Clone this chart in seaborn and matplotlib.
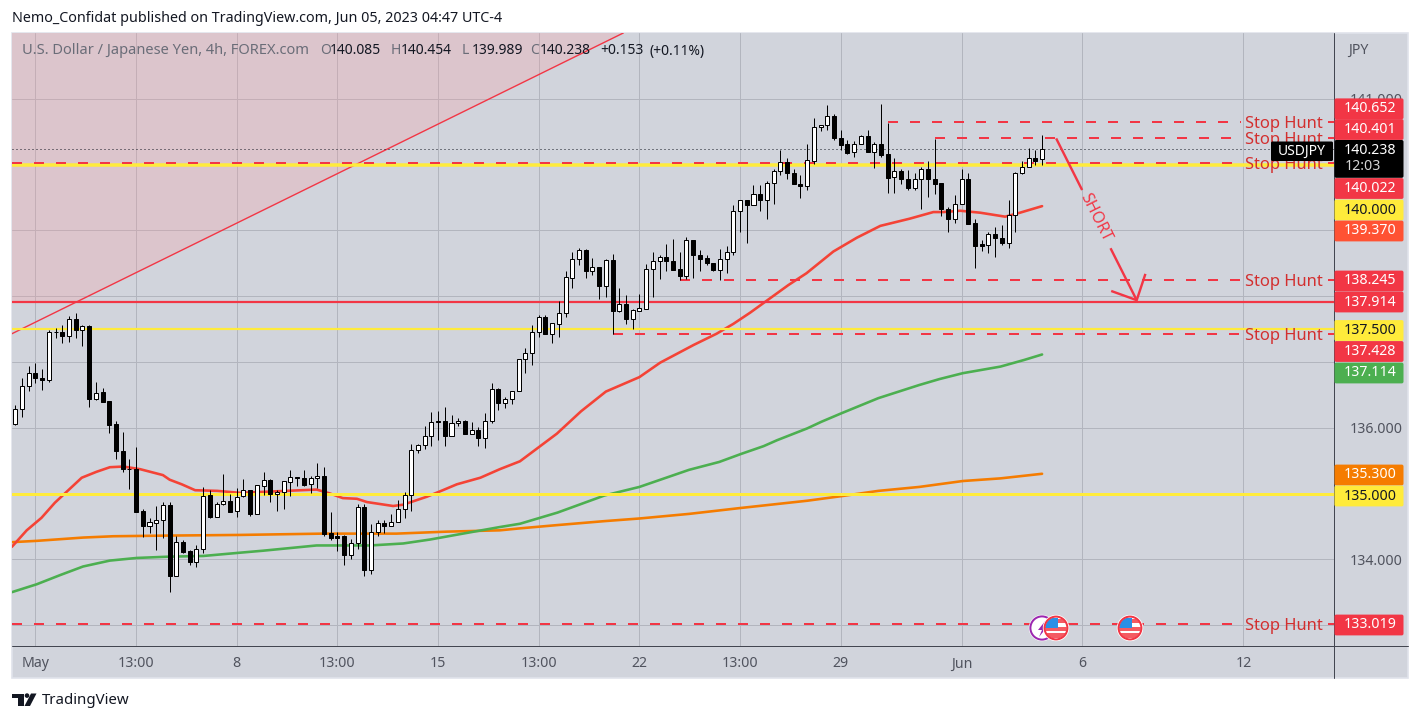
import matplotlib
matplotlib.use("Agg")
import matplotlib.pyplot as plt
from matplotlib.patches import FancyBboxPatch, Circle, Rectangle, Polygon
import seaborn as sns

# ---------- candles (4h USD/JPY) ----------
opens = [136.06,136.29,136.64,136.84,136.76,136.73,137.46,137.46,137.40,137.66,137.49,137.55,136.44,136.54,136.40,136.05,135.65,135.38,135.38,134.73,134.51,134.55,134.59,134.82,133.74,134.27,134.12,133.96,134.15,134.97,134.64,134.84,134.88,134.73,
134.96,135.05,134.69,135.12,135.20,135.00,135.03,135.18,135.25,135.23,135.14,135.23,135.26,134.40,134.36,134.36,134.06,134.25,134.79,133.84,134.41,134.55,134.51,134.56,134.76,134.97,135.66,135.74,135.87,136.10,136.10,135.88,136.07,136.10,135.91,135.96,135.84,136.10,136.59,
136.37,136.43,136.56,137.04,137.13,137.45,137.68,137.43,137.58,137.75,138.28,138.56,138.70,138.39,138.44,138.16,138.55,137.78,137.88,137.66,137.78,137.81,138.41,138.53,138.60,138.53,138.41,138.31,138.85,138.63,138.58,138.51,138.40,138.56,
138.68,139.29,139.46,139.38,139.56,139.47,139.72,139.91,140.04,139.88,139.70,139.68,140.06,140.58,140.61,140.74,140.40,140.31,140.19,140.32,140.43,140.20,140.31,140.16,139.81,139.91,139.78,139.65,139.79,139.94,139.79,139.72,139.32,139.18,139.40,139.78,139.11,138.79,138.78,138.94,138.89,138.81,139.23,139.88,139.96,140.10,140.085]
highs = [136.34,136.76,136.94,136.98,136.89,137.48,137.52,137.56,137.70,137.75,137.57,137.56,136.69,136.61,136.40,136.10,135.93,135.52,135.70,134.76,134.62,134.81,134.87,134.87,134.35,134.30,134.14,134.21,135.10,135.06,134.87,135.29,135.00,135.08,
135.22,135.05,135.13,135.33,135.22,135.06,135.19,135.36,135.25,135.35,135.26,135.46,135.40,134.72,134.42,134.37,134.31,134.84,134.84,134.54,134.59,134.60,134.69,134.90,135.03,135.75,135.76,136.03,136.24,136.26,136.31,136.20,136.15,136.12,136.09,136.01,136.22,136.68,136.60,
136.47,136.56,137.04,137.22,137.56,137.71,137.71,137.59,137.93,138.38,138.67,138.73,138.72,138.58,138.44,138.57,138.64,138.12,138.02,137.80,138.03,138.49,138.67,138.63,138.79,138.87,138.67,138.90,138.85,138.70,138.63,138.51,138.72,138.76,
139.39,139.46,139.46,139.69,139.69,139.75,139.94,140.22,140.10,139.93,139.84,140.31,140.71,140.61,140.91,140.77,140.53,140.38,140.36,140.45,140.53,140.35,140.92,140.64,140.10,139.93,139.92,139.88,139.97,140.06,140.39,139.72,139.36,139.54,139.93,139.87,139.17,138.85,138.98,139.05,139.09,139.46,139.89,140.06,140.25,140.22,140.454]
lows = [136.04,136.17,136.56,136.68,136.57,136.70,137.37,137.29,137.31,137.36,137.24,136.32,136.42,136.39,135.92,135.52,135.33,135.07,134.72,134.34,134.40,134.14,134.33,133.50,133.74,134.09,133.92,133.88,134.10,134.63,134.64,134.83,134.72,134.64,
134.94,134.66,134.69,134.97,134.87,134.73,134.76,134.96,135.12,135.11,135.01,135.08,134.35,134.29,134.12,133.91,134.01,134.16,133.75,133.78,134.35,134.40,134.50,134.56,134.63,134.73,135.62,135.68,135.73,135.82,135.72,135.87,136.02,135.91,135.91,135.73,135.69,136.07,136.27,
136.30,136.36,136.56,136.83,136.95,137.38,137.43,137.29,137.38,137.68,138.13,138.47,138.28,138.33,137.96,137.99,137.43,137.76,137.58,137.50,137.77,137.81,137.99,138.26,138.38,138.40,138.24,138.26,138.27,138.39,138.47,138.39,138.24,138.35,
138.62,138.97,138.81,139.38,139.29,139.17,139.41,139.84,139.78,139.70,139.50,139.62,140.01,140.52,140.53,140.38,140.22,140.17,140.11,140.31,140.19,139.95,140.12,139.57,139.57,139.71,139.62,139.61,139.32,139.51,139.56,139.22,138.97,139.11,139.40,139.10,138.43,138.69,138.66,138.60,138.78,138.74,138.97,139.86,139.96,139.99,139.989]
closes = [136.29,136.64,136.84,136.76,136.73,137.46,137.45,137.40,137.66,137.49,137.55,136.44,136.53,136.39,136.04,135.65,135.37,135.37,134.72,134.51,134.56,134.59,134.82,133.74,134.27,134.11,133.96,134.15,134.96,134.64,134.84,134.88,134.72,134.95,
135.05,134.69,135.13,135.20,135.00,135.03,135.19,135.25,135.23,135.13,135.23,135.26,134.39,134.33,134.33,134.06,134.25,134.79,133.83,134.41,134.55,134.51,134.57,134.76,134.98,135.66,135.74,135.87,136.09,136.08,135.88,136.07,136.10,135.91,135.96,135.84,136.10,136.59,136.38,
136.43,136.56,137.04,137.13,137.45,137.68,137.43,137.59,137.75,138.29,138.56,138.70,138.39,138.44,138.16,138.55,137.78,137.88,137.66,137.79,137.82,138.41,138.53,138.59,138.53,138.40,138.31,138.85,138.62,138.57,138.51,138.40,138.56,138.68,
139.30,139.46,139.38,139.56,139.47,139.72,139.91,140.04,139.88,139.70,139.68,140.07,140.58,140.61,140.74,140.40,140.30,140.18,140.32,140.43,140.20,140.31,140.15,139.80,139.91,139.78,139.65,139.79,139.94,139.79,139.71,139.32,139.18,139.40,139.78,139.10,138.77,138.77,138.94,138.89,138.81,139.23,139.88,139.96,140.10,140.06,140.238]

# ---------- moving averages (bar position, price) ----------
red_x = [-0.5,1.7,3.9,5.9,7.9,9.9,12.1,14.1,16.1,18.6,22,23,24.8,26.8,30.1,33.5,44.9,46.9,48.8,50.9,52.4,56.3,57.8,61.3,63.7,65.8,69.3,72.2,75.2,80.7,84.3,88,93,96.1,101.1,104.5,107,109.5,115.2,117.9,121.9,125.4,128.9,133.3,136.8,138.3,140.8,143.8,147.5,149.7,153]
red_y = [134.19,134.44,134.63,134.86,135.05,135.24,135.33,135.40,135.41,135.37,135.28,135.21,135.14,135.05,135.04,135.01,135.06,135.00,134.93,134.92,134.87,134.81,134.83,134.95,135.05,135.14,135.24,135.37,135.49,135.91,136.25,136.55,136.77,136.99,137.26,137.43,137.58,137.75,138.17,138.35,138.68,138.89,139.07,139.18,139.28,139.28,139.30,139.27,139.21,139.27,139.37]
green_x = [-0.5,3.2,6.7,10.1,14.1,18.1,23,28,33.5,36.9,44.9,52.9,57.8,61.8,66.7,72.2,75.2,80.8,87.8,93,100.4,104.9,108.1,111.5,113.5,118,120.1,123.1,128.6,134.7,137.7,141.2,146.8,150.3,153]
green_y = [133.50,133.62,133.76,133.89,133.98,134.02,134.04,134.05,134.10,134.13,134.21,134.21,134.24,134.30,134.39,134.49,134.54,134.71,134.97,135.10,135.36,135.48,135.60,135.72,135.81,135.99,136.09,136.22,136.45,136.65,136.74,136.83,136.93,137.03,137.114]
orange_x = [-0.5,3.2,10.1,14.6,22.6,33.5,45.9,56.8,64.3,72.2,75.2,80.8,87.8,93,100.4,108.1,118,123.1,128.6,134.7,141.2,146.8,153]
orange_y = [134.26,134.28,134.33,134.35,134.36,134.37,134.39,134.39,134.42,134.44,134.47,134.52,134.58,134.62,134.69,134.78,134.89,134.96,135.04,135.10,135.19,135.23,135.30]

# ---------- levels ----------
last_price = 140.238
yellow_levels = [140.000, 137.500, 135.000]
yellow_widths_px = [3.5, 2.2, 3.0]
long_level = 137.914
stop_levels = [140.652, 140.401, 140.022, 138.245, 137.428, 133.019]
stop_starts = [130, 137, -0.5, 99, 89, -0.5]
wedge_x = [-0.5, 90.6]
wedge_y = [137.43, 142.003]
arrow_a_x, arrow_a_y = [155.1, 158.97], [140.40, 139.615]
arrow_b_x, arrow_b_y = [163.2, 167.1], [138.73, 137.94]
head_x, head_y = [163.3, 167.1, 168.4], [138.08, 137.94, 138.34]

# ---------- axis labels ----------
x_tick_pos = [3, 18, 33, 48, 63, 78, 93, 108, 123, 141, 159, 183]
x_tick_labels = ["May", "13:00", "8", "13:00", "15", "13:00", "22", "13:00", "29", "Jun", "6", "12"]
y_ticks = [133, 134, 135, 136, 137, 138, 139, 140, 141]
y_tick_labels = ["", "134.000", "", "136.000", "", "", "", "", "141.000"]

# ---------- price tags ----------
tag_texts = ["140.652", "140.401", "140.022", "140.000", "139.370", "138.245", "137.914",
             "137.500", "137.428", "137.114", "135.300", "135.000", "133.019"]
tag_rows = [108.8, 129.5, 188.5, 210, 231, 281, 302, 330.5, 351.5, 373, 475, 496, 625]
tag_fill = ["#f23645", "#f23645", "#f23645", "#ffeb3b", "#ff5233", "#f23645", "#f23645",
            "#ffeb3b", "#f23645", "#4caf50", "#f57c00", "#ffeb3b", "#f23645"]
tag_ink = ["white", "white", "white", "#131722", "white", "white", "white",
           "#131722", "white", "white", "white", "#131722", "white"]

sns.set_theme(style="white")
plt.rcParams["font.family"] = ["Noto Sans", "DejaVu Sans"]

W, H = 1420, 722
PX = 0.72
fig = plt.figure(figsize=(W / 100, H / 100), dpi=100, facecolor="white")
PANE = "#d1d4dc"
GRID = "#b2b5be"
RED = "#f23645"
YELLOW = "#ffeb3b"
LBL = "#50535e"

# background pane
bg = fig.add_axes([0, 0, 1, 1], zorder=0)
bg.set_xlim(0, W); bg.set_ylim(H, 0); bg.axis("off")
bg.add_patch(Rectangle((12, 33), 1396, 645, fc=PANE, ec="#e0e3eb", lw=1.2))

# main chart
ax = fig.add_axes([12 / W, (H - 646) / H, 1322 / W, 613 / H], zorder=1)
ax.set_facecolor(PANE)
ax.set_xlim(-0.49, 196.5)
ax.set_ylim(132.681, 142.003)
for s in ax.spines.values():
    s.set_visible(False)
ax.set_xticks(x_tick_pos)
ax.set_xticklabels(x_tick_labels, fontsize=10.2, color=LBL)
for lab in ax.get_xticklabels():
    if lab.get_text() in ("May", "Jun"):
        lab.set_fontweight("semibold")
ax.yaxis.tick_right()
ax.set_yticks(y_ticks)
ax.set_yticklabels(y_tick_labels, fontsize=10.2, color=LBL)
ax.tick_params(axis="both", length=0)
ax.tick_params(axis="x", pad=7.5)
ax.tick_params(axis="y", pad=11)
ax.grid(True, color=GRID, lw=1.0 * PX, zorder=0.5)
ax.set_axisbelow(True)

# short-position wedge
foot = wedge_x[0] + (long_level - wedge_y[0]) / (wedge_y[1] - wedge_y[0]) * (wedge_x[1] - wedge_x[0])
ax.add_patch(Polygon([(wedge_x[0], long_level), (wedge_x[0], wedge_y[1]), (wedge_x[1], wedge_y[1]), (foot, long_level)],
                     closed=True, fc="#fd9ca0", alpha=0.25, ec="none", zorder=1))
ax.plot(wedge_x, wedge_y, color=RED, lw=1.0, zorder=1.5)

# moving averages through seaborn
sns.lineplot(x=orange_x, y=orange_y, ax=ax, color="#f57c00", lw=2.6 * PX, sort=False, errorbar=None, zorder=2)
sns.lineplot(x=green_x, y=green_y, ax=ax, color="#4caf50", lw=2.6 * PX, sort=False, errorbar=None, zorder=2)
sns.lineplot(x=red_x, y=red_y, ax=ax, color="#f44336", lw=2.6 * PX, sort=False, errorbar=None, zorder=2)

# horizontal levels
for lv, w in zip(yellow_levels, yellow_widths_px):
    ax.axhline(lv, color=YELLOW, lw=w * PX, zorder=2.4)
ax.axhline(long_level, color=RED, lw=2.2 * PX, zorder=2.5)
ax.axhline(last_price, color="#131722", lw=1.0 * PX, ls=(0, (1, 3)), zorder=2.6)
for lv, st in zip(stop_levels, stop_starts):
    ax.plot([st, 182.6], [lv, lv], color=RED, lw=2 * PX, ls=(0, (5, 6)), zorder=3, dash_capstyle="butt")
    ax.plot([195.6, 196.5], [lv, lv], color=RED, lw=2 * PX, zorder=3, solid_capstyle="butt")

# candles
assert len(opens) == len(highs) == len(lows) == len(closes)
idx = list(range(len(opens)))
vl = ax.vlines(idx, lows, highs, color="black", lw=1.0 * PX, zorder=4)
vl.set_snap(True)
tops = [max(o, c) for o, c in zip(opens, closes)]
bots = [min(o, c) for o, c in zip(opens, closes)]
fills = ["white" if c >= o else "black" for o, c in zip(opens, closes)]
ax.bar(idx, [t - b for t, b in zip(tops, bots)], bottom=bots, width=0.6, color=fills,
       edgecolor="black", linewidth=1.0 * PX, zorder=4.2)

# SHORT arrow
for xs, ys in ((arrow_a_x, arrow_a_y), (arrow_b_x, arrow_b_y), (head_x, head_y)):
    ax.plot(xs, ys, color=RED, lw=2.4 * PX, zorder=5, solid_capstyle="butt", solid_joinstyle="miter")
ax.text(160.9, 139.2, "SHORT", color=RED, fontsize=11.5, rotation=-63.4, ha="center", va="center",
        rotation_mode="anchor", zorder=5)

# Stop Hunt labels
for lv in stop_levels:
    ax.annotate("Stop Hunt", (189.1, lv), xytext=(0, -1.3), textcoords="offset points", color="#d32f2f",
                fontsize=11.9, ha="center", va="center", zorder=5)

# overlay chrome
ov = fig.add_axes([0, 0, 1, 1], zorder=2)
ov.set_xlim(0, W); ov.set_ylim(H, 0); ov.axis("off"); ov.patch.set_alpha(0)
SEP = "#434651"
ov.plot([1334, 1334], [33, 678], color=SEP, lw=1.0 * PX)
ov.plot([12, 1408], [646, 646], color=SEP, lw=1.0 * PX)

def rtag(y0, y1, fc, x0=1334.5, x1=1403.5):
    ov.add_patch(FancyBboxPatch((x0, y0), x1 - x0, y1 - y0, boxstyle="round,pad=0,rounding_size=1.8",
                                fc=fc, ec="none", zorder=3))

for txt, row, fc, ink in zip(tag_texts, tag_rows, tag_fill, tag_ink):
    rtag(row - 10.4, row + 10.4, fc)
    ov.text(1370, row, txt, color=ink, fontsize=10.2, ha="center", va="center", zorder=4)
rtag(140, 177.8, "#000000")
ov.text(1370, 150, "140.238", color="white", fontsize=10.2, ha="center", va="center", zorder=4)
ov.text(1362.5, 167, "12:03", color="#d6d6d6", fontsize=10.2, ha="center", va="center", zorder=4)
ov.add_patch(FancyBboxPatch((1271, 141.5), 62, 19.5, boxstyle="round,pad=0,rounding_size=1.5", fc="black", ec="none", zorder=3))
ov.text(1302, 151, "USDJPY", color="white", fontsize=10.0, ha="center", va="center", zorder=4)
ov.text(1358, 50, "JPY", color=LBL, fontsize=10.2, ha="center", va="center")

# header
ov.text(12, 19, "Nemo_Confidat published on TradingView.com, Jun 05, 2023 04:47 UTC-4",
        color="#131722", fontsize=10.3, ha="left", va="center")
HDR = "#6a6d78"
ov.text(22, 51, "U.S. Dollar / Japanese Yen, 4h, FOREX.com", color=HDR, fontsize=10.55, ha="left", va="center")
for x0, lab, x1, val in ((320, "O", 330, "140.085"), (391, "H", 400.5, "140.454"),
                         (462, "L", 471.5, "139.989"), (530, "C", 540, "140.238")):
    ov.text(x0, 51, lab, color=HDR, fontsize=10, ha="left", va="center")
    ov.text(x1, 51, val, color="#131722", fontsize=10, ha="left", va="center")
ov.text(600, 51, "+0.153", color="#131722", fontsize=10, ha="left", va="center")
ov.text(650, 51, "(+0.11%)", color="#131722", fontsize=10, ha="left", va="center")

# event icons
def flag(cx, cy, z):
    ov.add_patch(Circle((cx, cy), 13.2, fc="white", ec="none", zorder=z))
    for x0, y0, w, h, col in ((cx - 11, cy + 5, 22, 5, "#f45b63"), (cx - 11, cy - 1, 22, 3.5, "#f45b63"),
                              (cx + 1.5, cy - 9, 10, 3.5, "#f45b63"), (cx - 11, cy - 10, 12.5, 10, "#2a8fe6")):
        r = Rectangle((x0, y0), w, h, fc=col, ec="none", zorder=z + 0.1)
        ov.add_patch(r)
        r.set_clip_path(Circle((cx, cy), 10.8, transform=ov.transData))
    ov.add_patch(Circle((cx, cy), 11.4, fc="none", ec=RED, lw=2 * PX, zorder=z + 0.3))

ov.add_patch(Circle((1042, 628), 13.2, fc="white", ec="none", zorder=2))
ov.add_patch(Circle((1042, 628), 11.6, fc="white", ec="#9c27b0", lw=2 * PX, zorder=2.1))
ov.add_patch(Polygon([(1046, 620), (1038, 630), (1042, 630), (1039, 637), (1047, 627), (1043, 627)],
                     fc="#9c27b0", ec="none", zorder=2.2))
flag(1056, 628, 2.5)
flag(1130, 628, 2.5)

# TradingView logo
ov.add_patch(Polygon([(12, 693.5), (23.5, 693.5), (23.5, 706), (18, 706), (18, 698), (12, 698)], fc="#131722", ec="none"))
ov.add_patch(Circle((27, 695.6), 2.3, fc="#131722", ec="none"))
ov.add_patch(Polygon([(31, 693.5), (36.5, 693.5), (30, 706), (24.5, 706)], fc="#131722", ec="none"))
ov.text(41.5, 700.5, "TradingView", color="#131722", fontsize=10.8, ha="left", va="center")

fig.savefig("out.png", dpi=100)
